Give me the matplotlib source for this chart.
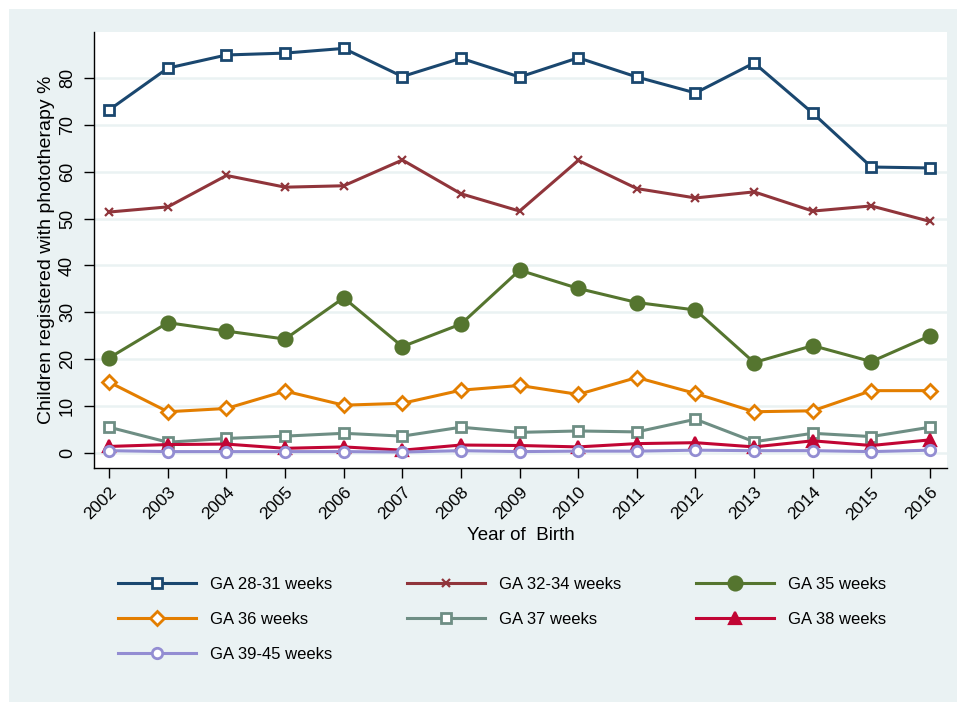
import numpy as np
import matplotlib
matplotlib.use("Agg")
import matplotlib.pyplot as plt
from matplotlib.patches import Rectangle

plt.rcParams['font.family'] = ['Liberation Sans', 'DejaVu Sans']

# Share of children registered with phototherapy, by gestational age group
years = list(range(2002, 2017))
ga_28_31 = [73.2, 82.1, 84.9, 85.3, 86.3, 80.3, 84.2, 80.2, 84.3, 80.2, 76.8, 83.2, 72.5, 61.0, 60.8]
ga_32_34 = [51.4, 52.5, 59.2, 56.7, 57.0, 62.5, 55.3, 51.6, 62.4, 56.4, 54.4, 55.7, 51.6, 52.7, 49.4]
ga_35 = [20.3, 27.8, 26.0, 24.3, 33.1, 22.7, 27.5, 39.0, 35.1, 32.1, 30.5, 19.3, 22.9, 19.5, 25.0]
ga_36 = [15.1, 8.8, 9.5, 13.2, 10.2, 10.6, 13.4, 14.4, 12.5, 16.1, 12.7, 8.8, 9.0, 13.3, 13.3]
ga_37 = [5.5, 2.3, 3.1, 3.6, 4.2, 3.6, 5.5, 4.4, 4.7, 4.5, 7.2, 2.4, 4.2, 3.5, 5.5]
ga_38 = [1.4, 1.8, 1.9, 1.0, 1.3, 0.6, 1.7, 1.6, 1.3, 2.0, 2.2, 1.3, 2.6, 1.6, 2.8]
ga_39_45 = [0.5, 0.3, 0.3, 0.3, 0.3, 0.2, 0.5, 0.3, 0.4, 0.4, 0.6, 0.5, 0.5, 0.3, 0.6]

labels = ["GA 28-31 weeks", "GA 32-34 weeks", "GA 35 weeks", "GA 36 weeks",
          "GA 37 weeks", "GA 38 weeks", "GA 39-45 weeks"]
series = [ga_28_31, ga_32_34, ga_35, ga_36, ga_37, ga_38, ga_39_45]

# Stata s2color style
colors = ["#1a476f", "#90353b", "#55752f", "#e37e00", "#6e8e84", "#c10534", "#938dd2"]
markers = ["s", "x", "o", "D", "s", "^", "o"]
hollow = [True, False, False, True, True, False, True]
msizes = [7.5, 5.5, 10, 7.5, 7.5, 8.5, 7.5]
bg = "#eaf2f3"

fig = plt.figure(figsize=(9.57, 7.02), dpi=100)
fig.patches.append(Rectangle((9 / 957, 0), 1, 1 - 9 / 702, transform=fig.transFigure,
                             facecolor=bg, edgecolor="none", zorder=-10))

ax = fig.add_axes([94 / 957, 1 - 468 / 702, (947 - 94) / 957, (468 - 32) / 702])
ax.set_facecolor("white")

handles = []
for vals, lab, c, m, h, ms in zip(series, labels, colors, markers, hollow, msizes):
    ln, = ax.plot(years, vals, color=c, lw=2.2, marker=m, markersize=ms,
                  markerfacecolor="white" if h else c, markeredgecolor=c,
                  markeredgewidth=2 if h else 1.6, label=lab)
    handles.append(ln)

ax.set_xlim(2001.74, 2016.29)
ax.set_ylim(-3.2, 89.8)
ax.set_yticks(range(0, 90, 10))
ax.set_xticks(years)
ax.set_xticklabels([str(y) for y in years], rotation=45, ha="right", va="top",
                   rotation_mode="anchor", fontsize=12.5)
ax.set_yticklabels([str(v) for v in range(0, 90, 10)], rotation=90, va="center", fontsize=13)
ax.tick_params(axis="x", length=7, width=1, direction="out", pad=5)
ax.tick_params(axis="y", length=7, width=1, direction="out", pad=6)
ax.grid(axis="y", color=bg, lw=1.8)
ax.set_axisbelow(True)
for s in ["top", "right"]:
    ax.spines[s].set_visible(False)
for s in ["left", "bottom"]:
    ax.spines[s].set_linewidth(1)

ax.set_xlabel("Year of  Birth", fontsize=13.5, labelpad=3)
ax.set_ylabel("Children registered with phototherapy %", fontsize=14, labelpad=3)

# row-wise legend: reorder for matplotlib's column-first fill
order = [0, 3, 6, 1, 4, 2, 5]
fig.legend([handles[i] for i in order], [labels[i] for i in order], ncol=3,
           loc="upper left", bbox_to_anchor=(118 / 957, 1 - 577 / 702),
           frameon=False, fontsize=12, handlelength=4.7, handletextpad=0.8,
           columnspacing=4.5, labelspacing=1.2, borderpad=0, borderaxespad=0)

fig.savefig("out.png", dpi=100)
